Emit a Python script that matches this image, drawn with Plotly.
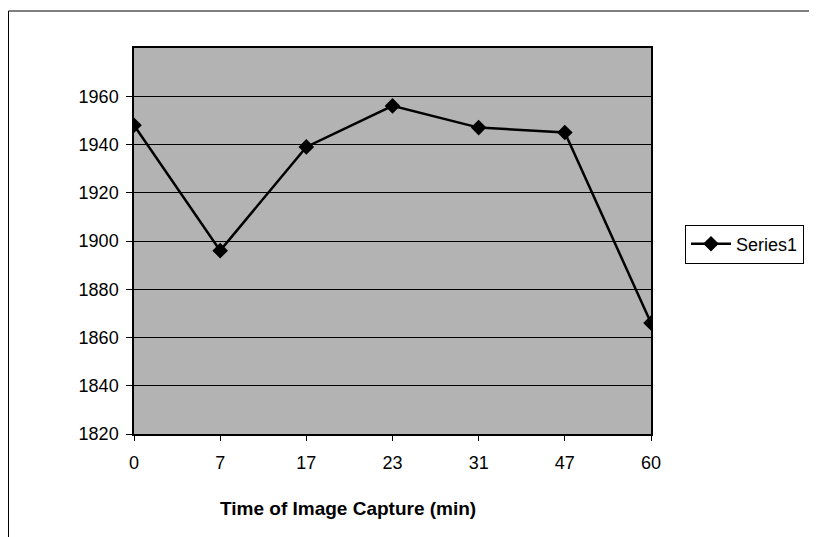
import plotly.graph_objects as go

categories = ["0", "7", "17", "23", "31", "47", "60"]
values = [1948, 1896, 1939, 1956, 1947, 1945, 1866]
y_ticks = [1820, 1840, 1860, 1880, 1900, 1920, 1940, 1960]
series_name = "Series1"
x_title = "Time of Image Capture (min)"

OFF = 7  # page body offset
W, H = 817 - OFF, 537 - OFF
L, R, T, B = 133 - OFF, 650 - OFF, 47 - OFF, 433 - OFF
pw, ph = R - L, B - T

fig = go.Figure()
fig.add_trace(go.Scatter(
    x=categories, y=values, name=series_name, mode="lines+markers",
    line=dict(color="black", width=2.5),
    marker=dict(symbol="diamond", size=12, color="black"),
))

fam = "Liberation Sans, Arial, sans-serif"

fig.update_layout(
    width=W, height=H,
    margin=dict(l=L, r=W - R, t=T, b=H - B, pad=0),
    paper_bgcolor="white",
    plot_bgcolor="#b3b3b3",
    font=dict(family=fam, size=18, color="black"),
    showlegend=True,
    legend=dict(
        x=(684 - OFF - L) / pw, y=(B - (243 - OFF)) / ph, xanchor="left", yanchor="middle",
        bordercolor="black", borderwidth=1, bgcolor="white",
        font=dict(family=fam, size=18, color="black"),
        itemwidth=40,
    ),
    xaxis=dict(
        type="category", range=[0, 6],
        showline=True, linecolor="black", linewidth=1.5, mirror=True,
        ticks="outside", ticklen=5, tickcolor="black",
        showgrid=False,
        ticklabelstandoff=7,
        tickfont=dict(size=18),
    ),
    yaxis=dict(
        range=[1820, 1980], tickvals=y_ticks,
        showline=True, linecolor="black", linewidth=1.5, mirror=True,
        ticks="outside", ticklen=6, tickcolor="black",
        showgrid=True, gridcolor="black", gridwidth=1,
        zeroline=False,
        ticklabelstandoff=4,
        tickfont=dict(size=18),
    ),
)

# x-axis title (placed as in the reference, left of plot centre)
fig.add_annotation(
    xref="paper", yref="paper",
    x=(347 - OFF - L) / pw, y=(B - (507 - OFF)) / ph,
    xanchor="center", yanchor="middle", showarrow=False,
    text="<b>" + x_title + "</b>", font=dict(family=fam, size=19, color="black"),
)

# outer chart border (top and left edges visible)
x_left = (0.5 - L) / pw
y_top = (B - (10 - OFF)) / ph
fig.add_shape(type="line", xref="paper", yref="paper",
              x0=x_left, x1=(W + 5 - L) / pw, y0=y_top, y1=y_top,
              line=dict(color="black", width=1))
fig.add_shape(type="line", xref="paper", yref="paper",
              x0=x_left, x1=x_left, y0=y_top, y1=(B - H - 5) / ph,
              line=dict(color="black", width=1))

fig.write_html("out.html")
